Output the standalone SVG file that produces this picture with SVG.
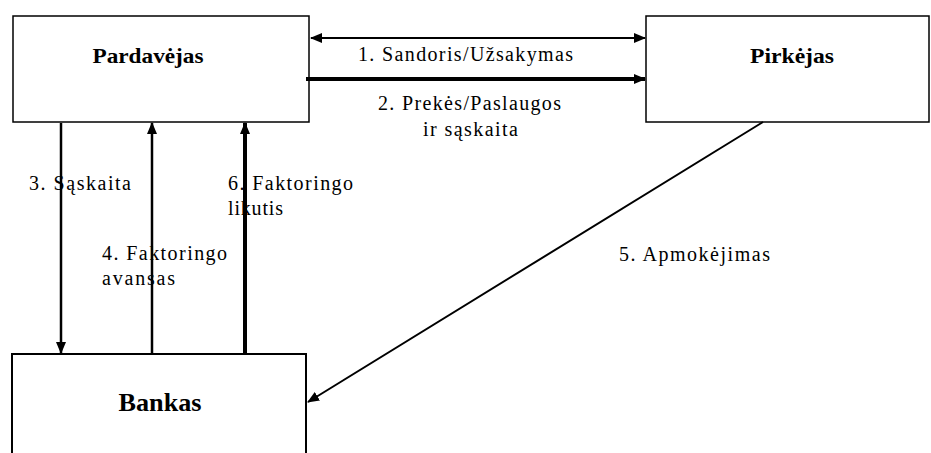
<svg xmlns="http://www.w3.org/2000/svg" width="931" height="453" viewBox="0 0 931 453">
<style>
.box{fill:#fff;stroke:#000;stroke-width:1.5}
text{font-family:"Liberation Serif","Times New Roman",serif;fill:#000}
.title{font-weight:bold;font-size:21px;text-anchor:middle}
.lbl{font-size:20px}
.c{fill:none;stroke:#000;stroke-width:2}
.v{stroke-width:2.5}
.thick{stroke-width:4}
</style>
<defs>
<marker id="ah" viewBox="0 0 12 10" refX="11" refY="5" markerWidth="12" markerHeight="10" markerUnits="userSpaceOnUse" orient="auto-start-reverse">
<path d="M0,0 L12,5 L0,10 Z" fill="#000"/>
</marker>
</defs>
<rect width="931" height="453" fill="#fff"/>
<g id="pardavejas">
<rect class="box" x="13" y="16" width="296" height="106"/>
<text class="title" x="148" y="63" textLength="111" lengthAdjust="spacingAndGlyphs">Pardavėjas</text>
</g>
<g id="pirkejas">
<rect class="box" x="646" y="16" width="283" height="106"/>
<text class="title" x="792" y="63" textLength="84" lengthAdjust="spacingAndGlyphs">Pirkėjas</text>
</g>
<g id="bankas">
<rect class="box" x="12" y="354" width="294" height="110" style="stroke-width:2"/>
<text class="title" x="160" y="411" style="font-size:25px" textLength="83" lengthAdjust="spacingAndGlyphs">Bankas</text>
</g>
<g id="connectors">
<line class="c" x1="311" y1="38" x2="645" y2="38" marker-start="url(#ah)" marker-end="url(#ah)"/>
<line class="c thick" x1="306" y1="79" x2="645" y2="79" marker-end="url(#ah)"/>
<line class="c v" x1="61" y1="123" x2="61" y2="353" marker-end="url(#ah)"/>
<line class="c v" x1="152" y1="354" x2="152" y2="123" marker-end="url(#ah)"/>
<line class="c thick" x1="245" y1="354" x2="245" y2="123" marker-end="url(#ah)"/>
<line class="c" x1="763" y1="122" x2="308" y2="402" marker-end="url(#ah)"/>
</g>
<g id="labels">
<text class="lbl" x="358" y="61" textLength="215" lengthAdjust="spacing">1. Sandoris/Užsakymas</text>
<text class="lbl" x="378" y="110" textLength="183" lengthAdjust="spacing">2. Prekės/Paslaugos</text>
<text class="lbl" x="423" y="136" textLength="95" lengthAdjust="spacing">ir sąskaita</text>
<text class="lbl" x="29" y="190" textLength="102" lengthAdjust="spacing">3. Sąskaita</text>
<text class="lbl" x="228" y="190" textLength="125" lengthAdjust="spacing">6. Faktoringo</text>
<text class="lbl" x="228" y="215" textLength="55" lengthAdjust="spacing">likutis</text>
<text class="lbl" x="102" y="260" textLength="125" lengthAdjust="spacing">4. Faktoringo</text>
<text class="lbl" x="102" y="285" textLength="73" lengthAdjust="spacing">avansas</text>
<text class="lbl" x="619" y="261" textLength="151" lengthAdjust="spacing">5. Apmokėjimas</text>
</g>
</svg>
